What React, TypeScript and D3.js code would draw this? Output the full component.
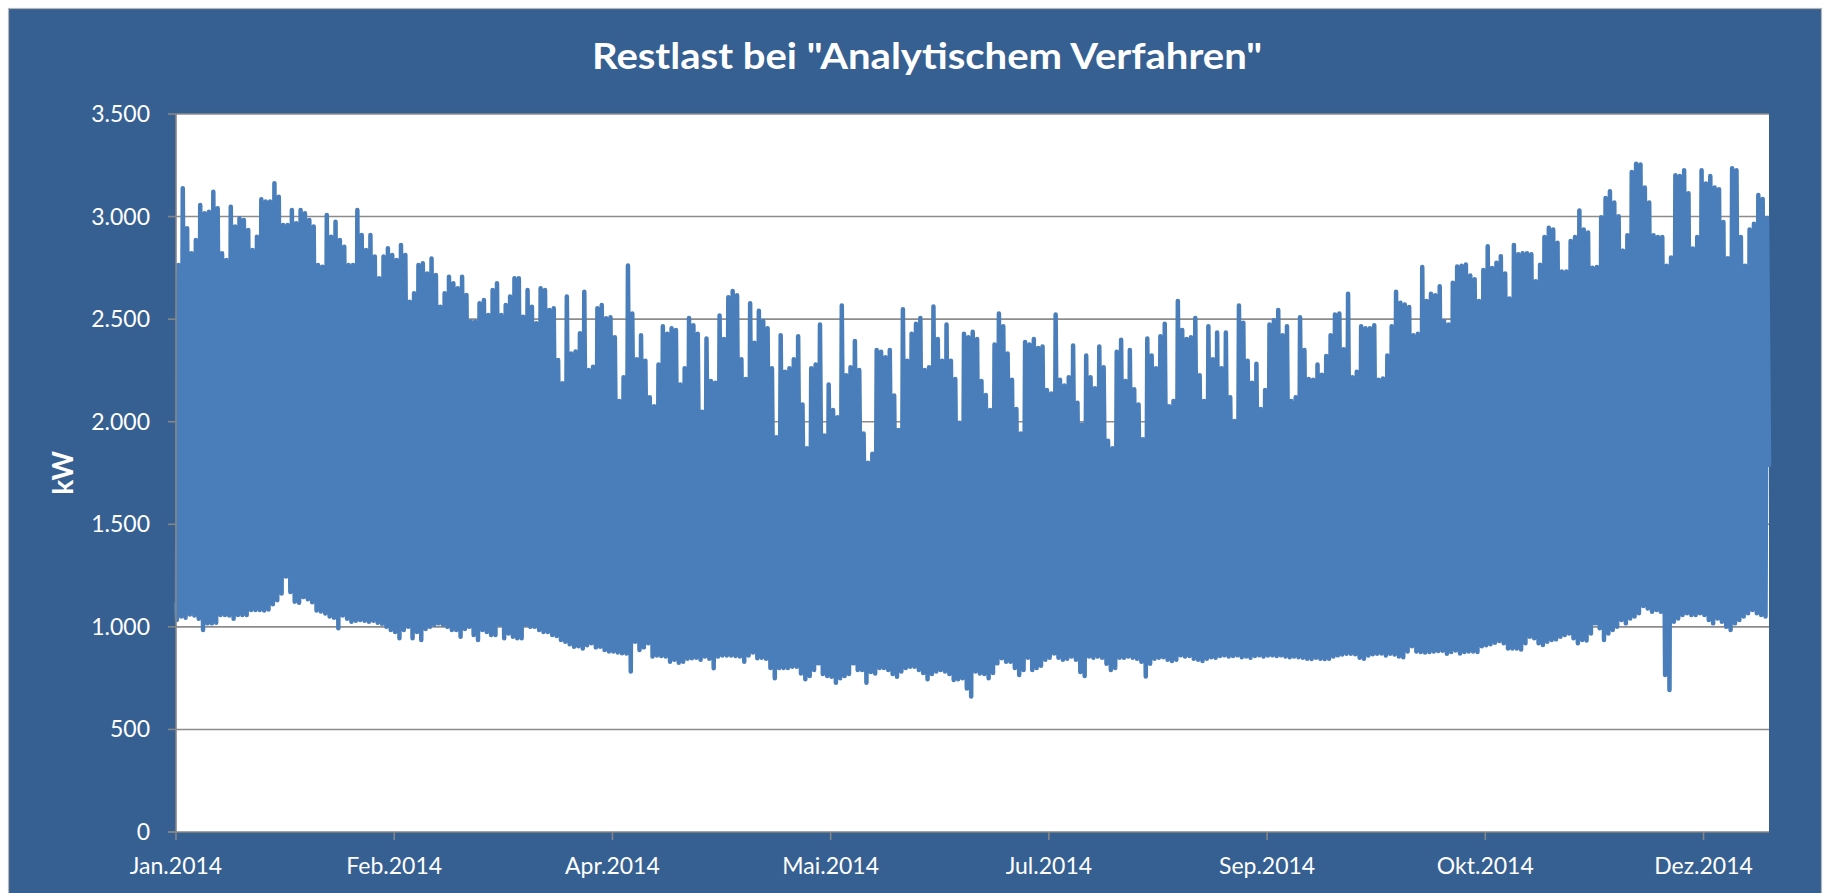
import { useEffect, useRef } from "react";
import * as d3 from "d3";

// daily maximum (kW), one value per day, Jan 1 .. Dec 31 2014
const dailyPeak = [
  2764, 3138, 2943, 2821, 2886, 3056, 3016, 3024, 3121, 3040,
  2821, 2788, 3048, 2951, 2992, 2983, 2935, 2837, 2902, 3084,
  3073, 3073, 3162, 3097, 2959, 2959, 3032, 2967, 3032, 3016,
  2983, 2951, 2764, 2756, 3008, 2902, 2975, 2886, 2853, 2764,
  2764, 3032, 2910, 2837, 2910, 2805, 2699, 2805, 2845, 2813,
  2788, 2861, 2813, 2585, 2626, 2764, 2772, 2723, 2796, 2715,
  2561, 2626, 2707, 2675, 2650, 2707, 2618, 2488, 2488, 2577,
  2593, 2520, 2642, 2675, 2520, 2569, 2610, 2699, 2699, 2512,
  2642, 2561, 2480, 2650, 2642, 2545, 2553, 2301, 2187, 2610,
  2333, 2342, 2431, 2634, 2252, 2268, 2553, 2569, 2504, 2509,
  2412, 2101, 2217, 2761, 2527, 2305, 2421, 2297, 2119, 2075,
  2279, 2465, 2429, 2456, 2447, 2181, 2261, 2506, 2470, 2429,
  2048, 2406, 2199, 2190, 2518, 2403, 2607, 2637, 2616, 2305,
  2208, 2577, 2385, 2541, 2491, 2456, 2261, 1924, 2421, 2243,
  2261, 2305, 2417, 2084, 1871, 2261, 2279, 2474, 1933, 2181,
  2057, 2022, 2566, 2226, 2265, 2394, 2252, 1942, 1800, 1844,
  2350, 2341, 2314, 2350, 2128, 1960, 2548, 2297, 2429, 2477,
  2506, 2252, 2265, 2562, 2403, 2297, 2474, 2297, 2208, 1995,
  2429, 2412, 2438, 2403, 2199, 2130, 2057, 2376, 2527, 2465,
  2332, 2204, 2062, 1942, 2389, 2376, 2403, 2359, 2367, 2155,
  2137, 2523, 2204, 2176, 2217, 2371, 2093, 1986, 2323, 2217,
  2163, 2367, 2265, 1907, 1871, 2341, 2399, 2199, 2350, 2158,
  2084, 1915, 2406, 2323, 2261, 2417, 2477, 2075, 2101, 2589,
  2447, 2403, 2412, 2506, 2226, 2101, 2465, 2305, 2435, 2261,
  2435, 2119, 2004, 2566, 2483, 2297, 2190, 2282, 2062, 2155,
  2474, 2495, 2545, 2421, 2465, 2101, 2119, 2509, 2350, 2208,
  2204, 2279, 2229, 2320, 2421, 2523, 2527, 2353, 2624, 2217,
  2243, 2465, 2456, 2456, 2470, 2204, 2211, 2323, 2465, 2633,
  2580, 2571, 2559, 2421, 2429, 2754, 2589, 2624, 2616, 2660,
  2491, 2474, 2678, 2757, 2760, 2766, 2713, 2695, 2589, 2740,
  2855, 2749, 2775, 2807, 2722, 2601, 2862, 2816, 2821, 2821,
  2816, 2685, 2765, 2900, 2946, 2937, 2872, 2732, 2732, 2881,
  2900, 3030, 2937, 2922, 2750, 2754, 2997, 3090, 3124, 3068,
  3002, 2834, 2909, 3217, 3258, 3254, 3142, 3068, 2909, 2900,
  2900, 2760, 2800, 3202, 3198, 3226, 3114, 2844, 2900, 3226,
  3161, 3198, 3142, 3133, 2974, 2797, 3235, 3226, 2900, 2760,
  2937, 2965, 3105, 3086, 2993,
];

// daily minimum (kW), same days
const dailyLow = [
  1033, 1050, 1045, 1060, 1055, 1040, 985, 1017, 1017, 1020,
  1058, 1058, 1055, 1040, 1058, 1058, 1058, 1082, 1082, 1082,
  1080, 1085, 1110, 1130, 1163, 1245, 1170, 1123, 1118, 1145,
  1135, 1120, 1080, 1075, 1065, 1050, 1045, 993, 1055, 1040,
  1025, 1030, 1033, 1030, 1025, 1030, 1020, 1015, 1000, 985,
  975, 944, 985, 1000, 944, 975, 936, 990, 1000, 1010,
  1017, 1010, 1000, 985, 985, 952, 990, 1000, 960, 936,
  985, 975, 960, 960, 1010, 944, 968, 952, 944, 944,
  1010, 1000, 1000, 985, 975, 975, 960, 955, 936, 928,
  915, 903, 905, 895, 910, 920, 900, 903, 887, 880,
  880, 875, 871, 870, 782, 928, 887, 900, 920, 855,
  860, 858, 855, 830, 840, 825, 830, 845, 847, 850,
  840, 855, 845, 798, 855, 860, 860, 860, 858, 855,
  830, 860, 875, 847, 850, 845, 800, 749, 800, 800,
  800, 806, 806, 773, 745, 760, 790, 822, 770, 760,
  757, 728, 750, 760, 770, 822, 790, 790, 728, 780,
  773, 800, 800, 790, 770, 757, 782, 800, 806, 806,
  790, 775, 745, 770, 782, 790, 782, 770, 741, 745,
  750, 700, 660, 782, 773, 770, 749, 775, 822, 847,
  830, 830, 800, 765, 790, 850, 790, 800, 810, 840,
  850, 870, 850, 840, 845, 855, 840, 780, 760, 855,
  850, 855, 850, 820, 790, 800, 850, 850, 855, 850,
  845, 830, 758, 820, 845, 850, 852, 840, 834, 840,
  861, 855, 858, 845, 840, 834, 845, 852, 850, 858,
  861, 855, 858, 861, 852, 855, 850, 858, 861, 855,
  860, 861, 858, 861, 855, 852, 855, 852, 850, 845,
  843, 850, 845, 843, 845, 855, 861, 865, 869, 869,
  866, 850, 845, 860, 866, 869, 870, 860, 869, 865,
  855, 852, 880, 905, 880, 878, 875, 878, 880, 882,
  884, 869, 878, 885, 870, 878, 880, 880, 878, 905,
  910, 915, 923, 931, 920, 895, 895, 895, 890, 920,
  952, 944, 920, 912, 928, 936, 939, 952, 960, 968,
  944, 920, 936, 933, 968, 1017, 993, 936, 968, 985,
  1001, 1033, 1017, 1041, 1050, 1066, 1102, 1090, 1074, 1082,
  1074, 765, 692, 1025, 1041, 1058, 1066, 1058, 1058, 1066,
  1058, 1033, 1017, 1041, 1025, 1001, 985, 1017, 1033, 1050,
  1066, 1082, 1066, 1058, 1050,
];

const startValue = 1110;
const endValue = 1790;

const yTicks = [0, 500, 1000, 1500, 2000, 2500, 3000, 3500];
const xTickDays = [0, 50, 100, 150, 200, 250, 300, 350];
const xTickLabels = ["Jan.2014", "Feb.2014", "Apr.2014", "Mai.2014", "Jul.2014", "Sep.2014", "Okt.2014", "Dez.2014"];

const W = 1827;
const H = 893;
const plot = { left: 176, right: 1769, top: 114, bottom: 832 };
const FONT = "Lato, 'Open Sans', sans-serif";

export default function App() {
  const svgRef = useRef<SVGSVGElement | null>(null);

  useEffect(() => {
    if (!svgRef.current) return;
    const svg = d3.select(svgRef.current);
    svg.selectAll("*").remove();

    const x = d3.scaleLinear().domain([0, dailyPeak.length]).range([plot.left, plot.right]);
    const y = d3.scaleLinear().domain([0, 3500]).range([plot.bottom, plot.top]);

    // chart background
    svg.append("rect")
      .attr("x", 8.5).attr("y", 8.5)
      .attr("width", 1813).attr("height", 900)
      .attr("fill", "#366092")
      .attr("stroke", "#b5b5b5")
      .attr("stroke-width", 1.2);

    // plot area
    svg.append("rect")
      .attr("x", plot.left).attr("y", plot.top)
      .attr("width", plot.right - plot.left)
      .attr("height", plot.bottom - plot.top)
      .attr("fill", "#ffffff");

    // gridlines
    svg.append("g")
      .selectAll("line")
      .data(yTicks.filter((t) => t > 0))
      .join("line")
      .attr("x1", plot.left).attr("x2", plot.right)
      .attr("y1", (d) => y(d)).attr("y2", (d) => y(d))
      .attr("stroke", "#8c8c8c")
      .attr("stroke-width", 1.6);

    // series: night low -> daytime peak for each day
    const pts: [number, number][] = [[0, startValue]];
    dailyPeak.forEach((p, i) => {
      pts.push([i + 0.2, dailyLow[i]]);
      pts.push([i + 0.55, p]);
    });
    pts.push([dailyPeak.length, endValue]);

    const line = d3.line<[number, number]>()
      .x((d) => x(d[0]))
      .y((d) => y(d[1]));

    svg.append("path")
      .datum(pts)
      .attr("d", line)
      .attr("fill", "none")
      .attr("stroke", "#4a7ebb")
      .attr("stroke-width", 4.5)
      .attr("stroke-linejoin", "round")
      .attr("stroke-linecap", "round");

    // axes
    const axisColor = "#868686";
    const ax = svg.append("g").attr("stroke", axisColor).attr("stroke-width", 1.6);
    ax.append("line")
      .attr("x1", plot.left).attr("x2", plot.left)
      .attr("y1", plot.top).attr("y2", plot.bottom);
    ax.append("line")
      .attr("x1", plot.left - 8).attr("x2", plot.right)
      .attr("y1", plot.bottom).attr("y2", plot.bottom);
    ax.selectAll("line.yt")
      .data(yTicks)
      .join("line")
      .attr("class", "yt")
      .attr("x1", plot.left - 8).attr("x2", plot.left)
      .attr("y1", (d) => y(d)).attr("y2", (d) => y(d));
    ax.selectAll("line.xt")
      .data(xTickDays)
      .join("line")
      .attr("class", "xt")
      .attr("x1", (d) => x(d)).attr("x2", (d) => x(d))
      .attr("y1", plot.bottom).attr("y2", plot.bottom + 8);

    const fmt = d3.formatLocale({ decimal: ",", thousands: ".", grouping: [3], currency: ["", "€"] }).format(",");

    svg.append("g")
      .selectAll("text")
      .data(yTicks)
      .join("text")
      .attr("x", 150)
      .attr("y", (d) => y(d) + 8)
      .attr("text-anchor", "end")
      .style("font", `23px ${FONT}`)
      .attr("fill", "#ffffff")
      .text((d) => fmt(d));

    svg.append("g")
      .selectAll("text")
      .data(xTickDays)
      .join("text")
      .attr("x", (d) => x(d))
      .attr("y", 874)
      .attr("text-anchor", "middle")
      .style("font", `23px ${FONT}`)
      .attr("fill", "#ffffff")
      .text((_d, i) => xTickLabels[i]);

    svg.append("text")
      .attr("transform", "translate(73,473) rotate(-90)")
      .attr("text-anchor", "middle")
      .style("font", `bold 28px ${FONT}`)
      .attr("fill", "#ffffff")
      .text("kW");

    svg.append("text")
      .attr("x", 927)
      .attr("y", 69)
      .attr("text-anchor", "middle")
      .attr("textLength", 670)
      .attr("lengthAdjust", "spacingAndGlyphs")
      .style("font", `bold 37px ${FONT}`)
      .attr("fill", "#ffffff")
      .text('Restlast bei "Analytischem Verfahren"');
  }, []);

  return (
    <svg
      ref={svgRef}
      width={W}
      height={H}
      style={{ position: "absolute", left: 0, top: 0, display: "block", background: "#ffffff" }}
    />
  );
}
